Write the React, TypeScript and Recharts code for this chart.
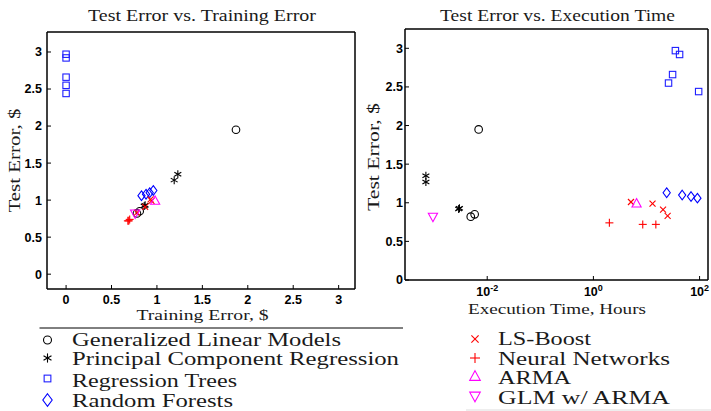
import React from 'react';
import { ScatterChart, Scatter, XAxis, YAxis } from 'recharts';

// ---------- data ----------
const glmTrain = [1.87, 0.78, 0.81];
const glmTest = [1.95, 0.82, 0.85];
const glmTime = [0.0069, 0.0049, 0.0058];

const pcrTrain = [1.23, 1.19, 0.86, 0.87];
const pcrTest = [1.35, 1.27, 0.92, 0.93];
const pcrTime = [0.0007, 0.0007, 0.0029, 0.003];

const treeTrain = [0, 0, 0, 0, 0];
const treeTest = [2.97, 2.92, 2.66, 2.55, 2.44];
const treeTime = [35, 42, 31, 26, 96];

const forestTrain = [0.96, 0.92, 0.88, 0.83];
const forestTest = [1.13, 1.1, 1.08, 1.06];
const forestTime = [24, 47, 69, 91];

const lsTrain = [0.93, 0.94, 0.87, 0.78];
const lsTest = [1.01, 0.99, 0.91, 0.83];
const lsTime = [5.1, 13, 20.5, 25];

const nnTrain = [0.7, 0.68, 0.69];
const nnTest = [0.74, 0.72, 0.72];
const nnTime = [2.0, 8.5, 15];

const armaTrain = [0.98];
const armaTest = [1.0];
const armaTime = [6.5];

const glmArmaTrain = [0.76];
const glmArmaTest = [0.81];
const glmArmaTime = [0.00095];

const linearTicks = [0, 0.5, 1, 1.5, 2, 2.5, 3];
const timeTicks = [0.01, 1, 100];

const seriesNames = [
  'Generalized Linear Models',
  'Principal Component Regression',
  'Regression Trees',
  'Random Forests',
  'LS-Boost',
  'Neural Networks',
  'ARMA',
  'GLM w/ ARMA',
];

// ---------- styling ----------
type Kind = 'circle' | 'star' | 'square' | 'diamond' | 'x' | 'plus' | 'tri' | 'trid';

const series = [
  { name: seriesNames[0], kind: 'circle' as Kind, color: '#000000', train: glmTrain, test: glmTest, time: glmTime },
  { name: seriesNames[1], kind: 'star' as Kind, color: '#000000', train: pcrTrain, test: pcrTest, time: pcrTime },
  { name: seriesNames[2], kind: 'square' as Kind, color: '#1f1fff', train: treeTrain, test: treeTest, time: treeTime },
  { name: seriesNames[3], kind: 'diamond' as Kind, color: '#0000ff', train: forestTrain, test: forestTest, time: forestTime },
  { name: seriesNames[4], kind: 'x' as Kind, color: '#ff0000', train: lsTrain, test: lsTest, time: lsTime },
  { name: seriesNames[5], kind: 'plus' as Kind, color: '#ff0000', train: nnTrain, test: nnTest, time: nnTime },
  { name: seriesNames[6], kind: 'tri' as Kind, color: '#ff00ff', train: armaTrain, test: armaTest, time: armaTime },
  { name: seriesNames[7], kind: 'trid' as Kind, color: '#ff00ff', train: glmArmaTrain, test: glmArmaTest, time: glmArmaTime },
];

const zip = (xs: number[], ys: number[]) => xs.map((x, i) => ({ x, y: ys[i] }));

function Marker({ kind, cx, cy, color, s = 1 }: { kind: Kind; cx: number; cy: number; color: string; s?: number }) {
  const sw = 1.1;
  const common = { fill: 'none', stroke: color, strokeWidth: sw };
  switch (kind) {
    case 'circle':
      return <circle cx={cx} cy={cy} r={3.8 * s} {...common} />;
    case 'star': {
      const r = 4 * s;
      const dx = r * Math.cos(Math.PI / 6);
      const dy = r * 0.5;
      return (
        <g {...common}>
          <line x1={cx} y1={cy - r} x2={cx} y2={cy + r} />
          <line x1={cx - dx} y1={cy - dy} x2={cx + dx} y2={cy + dy} />
          <line x1={cx - dx} y1={cy + dy} x2={cx + dx} y2={cy - dy} />
        </g>
      );
    }
    case 'square': {
      const h = 3.2 * s;
      return <rect x={cx - h} y={cy - h} width={2 * h} height={2 * h} {...common} />;
    }
    case 'diamond': {
      const w = 3.6 * s;
      const h = 4.8 * s;
      return <polygon points={`${cx},${cy - h} ${cx + w},${cy} ${cx},${cy + h} ${cx - w},${cy}`} {...common} />;
    }
    case 'x': {
      const h = 3 * s;
      return (
        <g {...common}>
          <line x1={cx - h} y1={cy - h} x2={cx + h} y2={cy + h} />
          <line x1={cx - h} y1={cy + h} x2={cx + h} y2={cy - h} />
        </g>
      );
    }
    case 'plus': {
      const h = 4 * s;
      return (
        <g {...common}>
          <line x1={cx - h} y1={cy} x2={cx + h} y2={cy} />
          <line x1={cx} y1={cy - h} x2={cx} y2={cy + h} />
        </g>
      );
    }
    case 'tri': {
      const w = 4.6 * s;
      const h = 4.2 * s;
      return <polygon points={`${cx},${cy - h} ${cx + w},${cy + h} ${cx - w},${cy + h}`} {...common} />;
    }
    case 'trid': {
      const w = 4.6 * s;
      const h = 4.2 * s;
      return <polygon points={`${cx},${cy + h} ${cx + w},${cy - h} ${cx - w},${cy - h}`} {...common} />;
    }
  }
  return null;
}

const tickFont = { fontSize: 12.5, fontWeight: 'bold', fill: '#000', fontFamily: "'Liberation Sans', Arial, sans-serif" };
const axisLineStyle = { stroke: '#000', strokeWidth: 1.5 };
const tickLineStyle = { stroke: '#000', strokeWidth: 1 };

const LogTick = (p: any) => {
  const exp = Math.round(Math.log10(p.payload.value));
  return (
    <text x={p.x} y={p.y + 9} textAnchor="middle" {...tickFont}>
      <tspan>10</tspan>
      <tspan dy={-5} fontSize={9}>{String(exp)}</tspan>
    </text>
  );
};

const Txt = ({ x, y, size, len, anchor = 'start', rotate = false, children }: any) => (
  <text
    x={x}
    y={y}
    fontSize={size}
    fontFamily="'Liberation Serif', 'Times New Roman', serif"
    textAnchor={anchor}
    textLength={len}
    lengthAdjust="spacingAndGlyphs"
    fill="#1a1a1a"
    transform={rotate ? `rotate(-90 ${x} ${y})` : undefined}
  >
    {children}
  </text>
);

const leftLegend = [
  { i: 0, mx: 47.5, my: 340, ty: 346, len: 269, s: 1.05 },
  { i: 1, mx: 47.5, my: 358, ty: 365, len: 327, s: 1.15 },
  { i: 2, mx: 47.5, my: 378.5, ty: 386.5, len: 165, s: 1.05 },
  { i: 3, mx: 47.5, my: 400, ty: 407, len: 161, s: 1.3 },
];
const rightLegend = [
  { i: 4, mx: 475, my: 339, ty: 345, len: 93, s: 1.2 },
  { i: 5, mx: 475, my: 358, ty: 364.5, len: 172, s: 1.25 },
  { i: 6, mx: 475, my: 375.5, ty: 384, len: 73, s: 1.15 },
  { i: 7, mx: 475, my: 397, ty: 403.5, len: 172, s: 1.15 },
];

export default function App() {
  return (
    <div style={{ position: 'absolute', left: 0, top: 0, width: 711, height: 411, background: '#fff', overflow: 'hidden' }}>
      {/* Left chart: Test Error vs Training Error */}
      <div style={{ position: 'absolute', left: 0, top: 0 }}>
        <ScatterChart width={360} height={320} margin={{ top: 31, right: 4, bottom: 11, left: 7 }}>
          <XAxis
            xAxisId={0}
            type="number"
            dataKey="x"
            domain={[-0.21, 3.18]}
            ticks={linearTicks}
            allowDataOverflow
            height={20}
            tickSize={-4}
            tickMargin={10}
            axisLine={axisLineStyle}
            tickLine={tickLineStyle}
            tick={tickFont}
            interval={0}
          />
          <XAxis
            xAxisId="top"
            orientation="top"
            type="number"
            dataKey="x"
            domain={[-0.21, 3.18]}
            ticks={linearTicks}
            allowDataOverflow
            height={1}
            tickSize={-4}
            axisLine={axisLineStyle}
            tickLine={tickLineStyle}
            tick={false}
            interval={0}
          />
          <YAxis
            yAxisId={0}
            type="number"
            dataKey="y"
            domain={[-0.2, 3.27]}
            ticks={linearTicks}
            allowDataOverflow
            width={40}
            tickSize={-4}
            tickMargin={9}
            axisLine={axisLineStyle}
            tickLine={tickLineStyle}
            tick={tickFont}
            interval={0}
          />
          <YAxis
            yAxisId="right"
            orientation="right"
            type="number"
            dataKey="y"
            domain={[-0.2, 3.27]}
            ticks={linearTicks}
            allowDataOverflow
            width={1}
            tickSize={-4}
            axisLine={axisLineStyle}
            tickLine={tickLineStyle}
            tick={false}
            interval={0}
          />
          {series.map((s) => (
            <Scatter
              key={s.name}
              name={s.name}
              data={zip(s.train, s.test)}
              isAnimationActive={false}
              shape={(p: any) => <Marker kind={s.kind} cx={p.cx} cy={p.cy} color={s.color} />}
            />
          ))}
        </ScatterChart>
      </div>

      {/* Right chart: Test Error vs Execution Time */}
      <div style={{ position: 'absolute', left: 360, top: 0 }}>
        <ScatterChart width={351} height={320} margin={{ top: 28, right: 2, bottom: 20, left: 5 }}>
          <XAxis
            xAxisId={0}
            type="number"
            dataKey="x"
            scale="log"
            domain={[2.83e-4, 144]}
            ticks={timeTicks}
            allowDataOverflow
            height={20}
            tickSize={-4}
            tickMargin={11}
            axisLine={axisLineStyle}
            tickLine={tickLineStyle}
            tick={<LogTick />}
            interval={0}
          />
          <XAxis
            xAxisId="top"
            orientation="top"
            type="number"
            dataKey="x"
            scale="log"
            domain={[2.83e-4, 144]}
            ticks={timeTicks}
            allowDataOverflow
            height={1}
            tickSize={-4}
            axisLine={axisLineStyle}
            tickLine={tickLineStyle}
            tick={false}
            interval={0}
          />
          <YAxis
            yAxisId={0}
            type="number"
            dataKey="y"
            domain={[0, 3.25]}
            ticks={linearTicks}
            allowDataOverflow
            width={40}
            tickSize={-4}
            tickMargin={6}
            axisLine={axisLineStyle}
            tickLine={tickLineStyle}
            tick={tickFont}
            interval={0}
          />
          <YAxis
            yAxisId="right"
            orientation="right"
            type="number"
            dataKey="y"
            domain={[0, 3.25]}
            ticks={linearTicks}
            allowDataOverflow
            width={1}
            tickSize={-4}
            axisLine={axisLineStyle}
            tickLine={tickLineStyle}
            tick={false}
            interval={0}
          />
          {series.map((s) => (
            <Scatter
              key={s.name}
              name={s.name}
              data={zip(s.time, s.test)}
              isAnimationActive={false}
              shape={(p: any) => <Marker kind={s.kind} cx={p.cx} cy={p.cy} color={s.color} />}
            />
          ))}
        </ScatterChart>
      </div>

      {/* Titles, axis labels and legends */}
      <svg width={711} height={411} style={{ position: 'absolute', left: 0, top: 0, pointerEvents: 'none' }}>
        <Txt x={202} y={20.5} size={17} len={228} anchor="middle">Test Error vs. Training Error</Txt>
        <Txt x={557.5} y={20.5} size={17} len={235} anchor="middle">Test Error vs. Execution Time</Txt>
        <Txt x={202.5} y={319.5} size={15} len={132} anchor="middle">Training Error, $</Txt>
        <Txt x={557} y={313.5} size={15} len={178} anchor="middle">Execution Time, Hours</Txt>
        <Txt x={20} y={160.5} size={17} len={104} anchor="middle" rotate>Test Error, $</Txt>
        <Txt x={379.3} y={157} size={17} len={108} anchor="middle" rotate>Test Error, $</Txt>

        <line x1={39.5} y1={328} x2={403} y2={328} stroke="#000" strokeWidth={1} />
        <line x1={466} y1={410} x2={711} y2={410} stroke="#dddddd" strokeWidth={1} />

        {leftLegend.concat(rightLegend).map((e) => {
          const s = series[e.i];
          return (
            <g key={s.name}>
              <Marker kind={s.kind} cx={e.mx} cy={e.my} color={s.color} s={e.s} />
              <Txt x={e.mx > 400 ? 498 : 72} y={e.ty} size={18.5} len={e.len}>{s.name}</Txt>
            </g>
          );
        })}
      </svg>
    </div>
  );
}
